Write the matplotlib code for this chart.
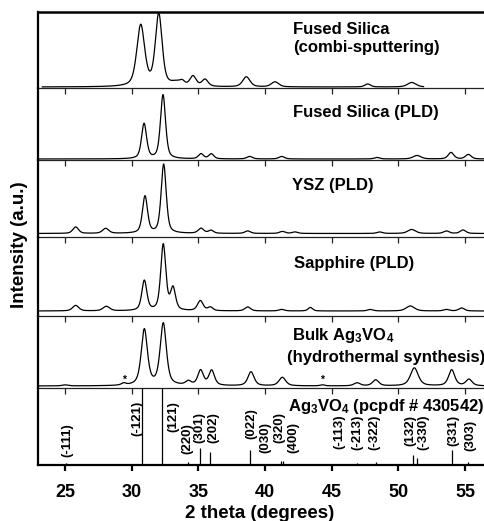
import numpy as np
import matplotlib
matplotlib.use("Agg")
import matplotlib.pyplot as plt

plt.rcParams['font.family'] = ['Liberation Sans', 'DejaVu Sans']
plt.rcParams['font.weight'] = 'bold'
plt.rcParams['mathtext.fontset'] = 'custom'
plt.rcParams['mathtext.rm'] = 'Liberation Sans:bold'
plt.rcParams['mathtext.bf'] = 'Liberation Sans:bold'
plt.rcParams['mathtext.default'] = 'bf'

# ---------------- data (peak lists) ----------------
# each panel: peak positions (2theta), peak heights (a.u.), peak widths (FWHM)
combi_pos = [30.68, 32.03, 33.4, 33.8, 34.6, 35.5, 38.6, 40.75, 47.7, 51.0]
combi_hgt = [61, 72, 4, 3, 10, 7, 10, 5, 3, 4.5]
combi_fwhm = [0.7, 0.6, 1.0, 0.4, 0.55, 0.55, 0.65, 0.65, 0.5, 0.75]

fs_pos = [30.93, 32.35, 35.2, 35.97, 38.85, 41.25, 48.4, 51.4, 53.95, 55.25]
fs_hgt = [35, 64, 5, 5, 2.5, 2.5, 1.5, 3.5, 6.5, 4.5]
fs_fwhm = [0.45, 0.45, 0.45, 0.45, 0.5, 0.5, 0.5, 0.7, 0.5, 0.5]

ysz_pos = [25.8, 28.05, 31.0, 32.4, 35.2, 35.95, 38.7, 41.3, 42.25, 48.6, 51.0, 53.6, 54.85]
ysz_hgt = [6.5, 5, 37, 69, 5, 3, 2.5, 2, 1.5, 1.5, 4, 2.5, 3.5]
ysz_fwhm = [0.5, 0.55, 0.45, 0.45, 0.5, 0.45, 0.5, 0.5, 0.5, 0.5, 0.7, 0.5, 0.5]

sap_pos = [25.8, 28.1, 30.95, 32.37, 33.1, 35.15, 35.9, 38.7, 41.25, 43.4, 47.9, 50.9, 53.6, 54.75]
sap_hgt = [5.5, 4.5, 30, 66, 22, 10, 3.5, 4, 1.5, 3.5, 1.5, 5, 1.5, 3]
sap_fwhm = [0.55, 0.6, 0.45, 0.45, 0.45, 0.5, 0.45, 0.5, 0.5, 0.4, 0.5, 0.75, 0.5, 0.5]

bulk_pos = [25.0, 29.4, 30.95, 32.37, 34.25, 35.17, 36.0, 38.95, 41.3, 44.3, 46.9, 48.3, 51.2, 54.0, 55.3]
bulk_hgt = [1, 2, 56, 62, 4, 15, 15, 14, 8.5, 1, 3, 6, 18, 16, 6.5]
bulk_fwhm = [0.5, 0.4, 0.55, 0.55, 0.5, 0.5, 0.5, 0.55, 0.6, 0.4, 0.55, 0.55, 0.7, 0.55, 0.55]
impurity_peaks = [29.4, 44.3]

# reference pattern Ag3VO4 (pcpdf # 430542)
ref_hkl = ['(-111)', '(-121)', '(121)', '(220)', '(301)', '(202)', '(022)', '(030)',
           '(320)', '(400)', '(-113)', '(-213)', '(-322)', '(132)', '(-330)', '(331)', '(303)']
ref_pos = [25.1, 30.8, 32.3, 34.2, 35.1, 35.9, 38.9, 40.0, 41.2, 41.35, 45.6, 46.9,
           48.3, 51.1, 51.4, 54.0, 55.2]
ref_int = [0.02, 1.0, 1.0, 0.04, 0.22, 0.17, 0.2, 0.01, 0.05, 0.05, 0.01, 0.03,
           0.04, 0.13, 0.09, 0.19, 0.04]

xticks = [25, 30, 35, 40, 45, 50, 55]

# ---------------- layout ----------------
W, H = 485, 521
fig = plt.figure(figsize=(W / 100, H / 100), dpi=100)
edges = [12, 88, 160, 237, 316, 388, 465]   # panel borders, px from top
left_px = 38
xlim = (22.975, 56.5)


def pv(x, pos, hgt, fwhm, eta):
    y = np.zeros_like(x)
    for p, h, w in zip(pos, hgt, fwhm):
        hw = w / 2.0
        d = (x - p) / hw
        lor = 1.0 / (1.0 + d ** 2)
        gau = np.exp(-np.log(2) * d ** 2)
        y += h * (eta * lor + (1 - eta) * gau)
    return y


x_full = np.arange(23.0, 56.6, 0.01)
x_combi = x_full[(x_full >= 23.3) & (x_full <= 51.9)]

panels = [
    (x_combi, combi_pos, combi_hgt, combi_fwhm, 0.5, (-1, 75)),
    (x_full, fs_pos, fs_hgt, fs_fwhm, 0.5, (-1, 71)),
    (x_full, ysz_pos, ysz_hgt, ysz_fwhm, 0.5, (-3.5, 73.5)),
    (x_full, sap_pos, sap_hgt, sap_fwhm, 0.5, (-5, 74)),
    (x_full, bulk_pos, bulk_hgt, bulk_fwhm, 0.6, (-2, 70)),
]

axes = []
for i in range(6):
    top, bot = edges[i], edges[i + 1]
    ax = fig.add_axes([left_px / W, 1 - bot / H, 1 - left_px / W, (bot - top) / H])
    ax.set_facecolor('none')
    ax.set_xlim(*xlim)
    ax.set_yticks([])
    ax.set_xticks(xticks)
    ax.spines['right'].set_visible(False)
    ax.spines['left'].set_linewidth(1.6)
    if i == 0:
        ax.spines['top'].set_linewidth(1.8)
    else:
        ax.spines['top'].set_visible(False)
    if i < 5:
        ax.spines['bottom'].set_linewidth(0.9)
        ax.spines['bottom'].set_color('#222222')
        ax.tick_params(axis='x', direction='out', length=4.5, width=0.9,
                       labelbottom=False, color='#222222')
    else:
        ax.spines['bottom'].set_linewidth(1.6)
        ax.tick_params(axis='x', direction='out', length=4, width=1.6,
                       labelsize=13, pad=10)
        for lab in ax.get_xticklabels():
            lab.set_fontweight('bold')
    axes.append(ax)

for ax, (xx, pos, hgt, fw, eta, yl) in zip(axes[:5], panels):
    ax.plot(xx, pv(xx, pos, hgt, fw, eta), color='black', lw=0.9)
    ax.set_ylim(*yl)

# impurity asterisks
for p in impurity_peaks:
    axes[4].text(p, 6.0, '*', ha='center', va='center', fontsize=7.5)

# stick pattern
ax6 = axes[5]
ax6.set_ylim(0, 1)
ax6.vlines(ref_pos, 0, ref_int, color='black', lw=0.9)
lab_x = [25.15, 30.4, 33.1, 34.15, 35.05, 36.1, 39.0, 40.0, 41.05, 42.1, 45.55,
         46.9, 48.2, 50.9, 51.85, 54.1, 55.4]
lab_top = [0.545, 0.835, 0.835, 0.545, 0.69, 0.69, 0.74, 0.56, 0.69, 0.56, 0.655,
           0.655, 0.655, 0.655, 0.655, 0.655, 0.59]
for t, lx, ly in zip(ref_hkl, lab_x, lab_top):
    ax6.text(lx, ly, t, rotation=90, ha='center', va='top', fontsize=9.5,
             fontweight='bold')


def ftext(xpx, ypx, s, **kw):
    fig.text(xpx / W, 1 - ypx / H, s, fontweight='bold', **kw)


ftext(293, 34, 'Fused Silica', fontsize=12, va='baseline', ha='left')
ftext(293, 51.7, '(combi-sputtering)', fontsize=12, va='baseline', ha='left')
ftext(293, 117.3, 'Fused Silica (PLD)', fontsize=12, va='baseline', ha='left')
ftext(291.7, 190.3, 'YSZ (PLD)', fontsize=12, va='baseline', ha='left')
ftext(294, 268.3, 'Sapphire (PLD)', fontsize=12, va='baseline', ha='left')
ftext(291.7, 340, r'Bulk Ag$_3$VO$_4$', fontsize=12, va='baseline', ha='left')
ftext(286.7, 361.7, '(hydrothermal synthesis)', fontsize=12, va='baseline', ha='left')
ftext(288.3, 410.5, r'Ag$_3$VO$_4$ (pcpdf # 430542)', fontsize=12, va='baseline', ha='left')

ftext(20, 245, 'Intensity (a.u.)', fontsize=13.5, rotation=90, ha='center', va='center')
ftext(260, 513, '2 theta (degrees)', fontsize=13.5, ha='center', va='center')

fig.savefig('out.png', dpi=100)
